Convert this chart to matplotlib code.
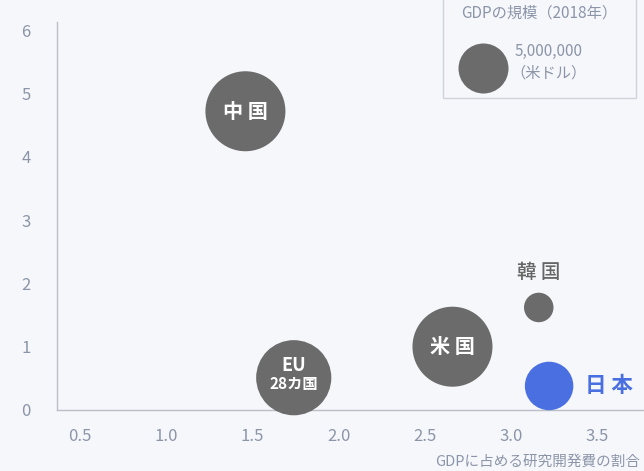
import matplotlib
matplotlib.use("Agg")
import matplotlib.pyplot as plt
from matplotlib.patches import Rectangle

plt.rcParams['font.family'] = ['Noto Sans CJK JP', 'DejaVu Sans']

# ---- data ----
labels = ['中 国', 'EU\n28カ国', '米 国', '韓 国', '日 本']
rd_share = [1.46, 1.74, 2.66, 3.16, 3.22]       # GDPに占める研究開発費の割合
y_values = [4.72, 0.51, 1.00, 1.62, 0.38]
gdp = [12800000, 11300000, 12800000, 1740000, 4700000]  # 米ドル (bubble size)
legend_gdp = 5000000
xticks = [0.5, 1.0, 1.5, 2.0, 2.5, 3.0, 3.5]
yticks = [0, 1, 2, 3, 4, 5, 6]

GRAY = '#6b6b6b'
BLUE = '#4a6fe0'
TXT = '#8c95a8'
BG = '#f5f7fb'
colors = [GRAY, GRAY, GRAY, GRAY, BLUE]
SIZE_REF = 1296.0  # points^2 for legend_gdp

fig = plt.figure(figsize=(6.44, 4.71), dpi=100, facecolor=BG)
ax = fig.add_axes([57/644, 1-410/471, 1-57/644, (410-22)/471])
ax.set_facecolor(BG)

sizes = [g / legend_gdp * SIZE_REF for g in gdp]
ax.scatter(rd_share, y_values, s=sizes, c=colors, linewidths=0, zorder=3, clip_on=False)

ax.set_xlim(0.368, 3.77)
ax.set_ylim(0, 6.13)
ax.set_xticks(xticks)
ax.set_xticklabels([f'{t:.1f}' for t in xticks])
ax.set_yticks(yticks)
ax.tick_params(axis='both', length=0, colors=TXT, labelsize=12)
ax.tick_params(axis='x', pad=13)
ax.tick_params(axis='y', pad=19)
for s in ['top', 'right']:
    ax.spines[s].set_visible(False)
for s in ['left', 'bottom']:
    ax.spines[s].set_color('#b9bec9')
    ax.spines[s].set_linewidth(1)

# bubble labels
ax.text(rd_share[0], y_values[0], labels[0], color='white', fontsize=14.5,
        fontweight='bold', ha='center', va='center', zorder=4)
ax.text(rd_share[1], y_values[1] + 0.2, 'EU', color='white', fontsize=13,
        fontweight='bold', ha='center', va='center', zorder=4)
ax.text(rd_share[1], y_values[1] - 0.1, '28カ国', color='white', fontsize=11,
        fontweight='bold', ha='center', va='center', zorder=4)
ax.text(rd_share[2], y_values[2], labels[2], color='white', fontsize=14.5,
        fontweight='bold', ha='center', va='center', zorder=4)
ax.annotate(labels[3], (rd_share[3], y_values[3]), xytext=(0, 25),
            textcoords='offset points', color='#666666', fontsize=14,
            fontweight='medium', ha='center', va='center', zorder=4)
ax.annotate(labels[4], (rd_share[4], y_values[4]), xytext=(26, 0),
            textcoords='offset points', color=BLUE, fontsize=15.5,
            fontweight='bold', ha='left', va='center', zorder=4)

# x-axis title
fig.text(640/644, 1-462/471, 'GDPに占める研究開発費の割合', color=TXT,
         fontsize=10.5, ha='right', va='center')

# legend box
fig.patches.append(Rectangle((443/644, 1-98/471), 193/644, 110/471,
                             transform=fig.transFigure, facecolor=BG,
                             edgecolor='#cfd3da', linewidth=1, zorder=5))
fig.text(539/644, 1-13/471, 'GDPの規模（2018年）', color=TXT, fontsize=11,
         ha='center', va='center', zorder=6)
lax = fig.add_axes([457/644, 1-93/471, 51/644, 50/471], zorder=7)
lax.set_xlim(-1, 1)
lax.set_ylim(-1, 1)
lax.axis('off')
lax.scatter([0], [0], s=SIZE_REF, c=GRAY, linewidths=0, clip_on=False)
fig.text(515/644, 1-51/471, f'{legend_gdp:,}', color=TXT, fontsize=11,
         ha='left', va='center', zorder=8)
fig.text(510/644, 1-73/471, '（米ドル）', color=TXT, fontsize=11,
         ha='left', va='center', zorder=8)

fig.savefig('out.png', dpi=100, facecolor=BG)
